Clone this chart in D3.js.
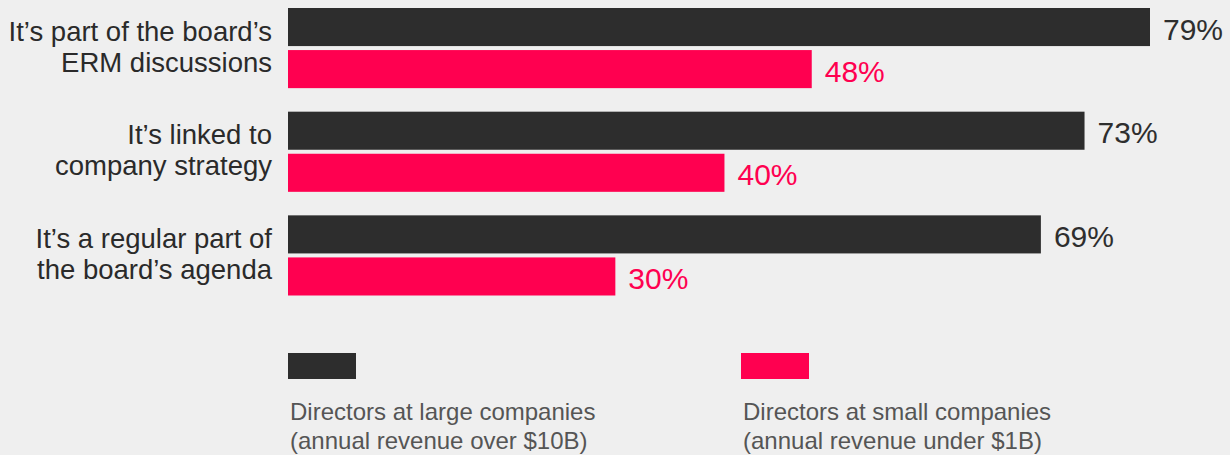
<!DOCTYPE html>
<html>
<head>
<meta charset="utf-8">
<script src="https://cdn.jsdelivr.net/npm/d3@7"></script>
<style>
  html, body { margin: 0; padding: 0; background: #efefef; }
  svg { display: block; }
  text { font-family: "Liberation Sans", Arial, Helvetica, sans-serif; }
</style>
</head>
<body>
<svg id="chart" width="1230" height="455"></svg>
<script>
const categories = [
  ["It\u2019s part of the board\u2019s", "ERM discussions"],
  ["It\u2019s linked to", "company strategy"],
  ["It\u2019s a regular part of", "the board\u2019s agenda"]
];
const seriesNames = ["large", "small"];
const largeValues = [79, 73, 69];
const smallValues = [48, 40, 30];
const legendLabels = [
  ["Directors at large companies", "(annual revenue over $10B)"],
  ["Directors at small companies", "(annual revenue under $1B)"]
];
const colors = ["#2d2d2d", "#ff0050"];
const labelColors = ["#2e2e2e", "#ff0050"];

const svg = d3.select("#chart");
const W = 1230, H = 455;
svg.append("rect").attr("width", W).attr("height", H).attr("fill", "#efefef");

const x = d3.scaleLinear().domain([0, 79]).range([288, 1150]);
const y = d3.scaleBand().domain(d3.range(categories.length)).range([8, 295.5]).paddingInner(0.227).paddingOuter(0);
const ySub = d3.scaleBand().domain(seriesNames).range([0, y.bandwidth()]).paddingInner(0.095).paddingOuter(0);

const data = categories.map((c, i) => ({ i, label: c, values: [largeValues[i], smallValues[i]] }));

const groups = svg.selectAll("g.group").data(data).enter().append("g")
  .attr("class", "group")
  .attr("transform", d => `translate(0,${y(d.i)})`);

groups.selectAll("rect.bar").data(d => d.values.map((v, k) => ({ v, k }))).enter().append("rect")
  .attr("class", "bar")
  .attr("x", x(0))
  .attr("y", d => ySub(seriesNames[d.k]))
  .attr("width", d => x(d.v) - x(0))
  .attr("height", ySub.bandwidth())
  .attr("fill", d => colors[d.k]);

groups.selectAll("text.val").data(d => d.values.map((v, k) => ({ v, k }))).enter().append("text")
  .attr("class", "val")
  .attr("x", d => x(d.v) + 13)
  .attr("y", d => ySub(seriesNames[d.k]) + ySub.bandwidth() / 2 + 12.5)
  .attr("font-size", 30)
  .attr("fill", d => labelColors[d.k])
  .text(d => d.v + "%");

groups.append("text")
  .attr("class", "cat")
  .attr("text-anchor", "end")
  .attr("x", 272)
  .attr("font-size", 27.5)
  .attr("fill", "#2a2a2a")
  .selectAll("tspan").data(d => d.label).enter().append("tspan")
  .attr("x", 272)
  .attr("y", (t, j) => y.bandwidth() / 2 - 7.5 + j * 31)
  .text(t => t);

// Legend
const legendX = [288, 741];
const leg = svg.selectAll("g.leg").data(legendLabels).enter().append("g")
  .attr("class", "leg")
  .attr("transform", (d, i) => `translate(${legendX[i]},353)`);
leg.append("rect").attr("width", 68).attr("height", 26).attr("fill", (d, i) => colors[i]);
leg.append("text")
  .attr("font-size", 24)
  .attr("fill", "#555555")
  .selectAll("tspan").data(d => d).enter().append("tspan")
  .attr("x", 2)
  .attr("y", (t, j) => 67 + j * 29)
  .text(t => t);
</script>
</body>
</html>
